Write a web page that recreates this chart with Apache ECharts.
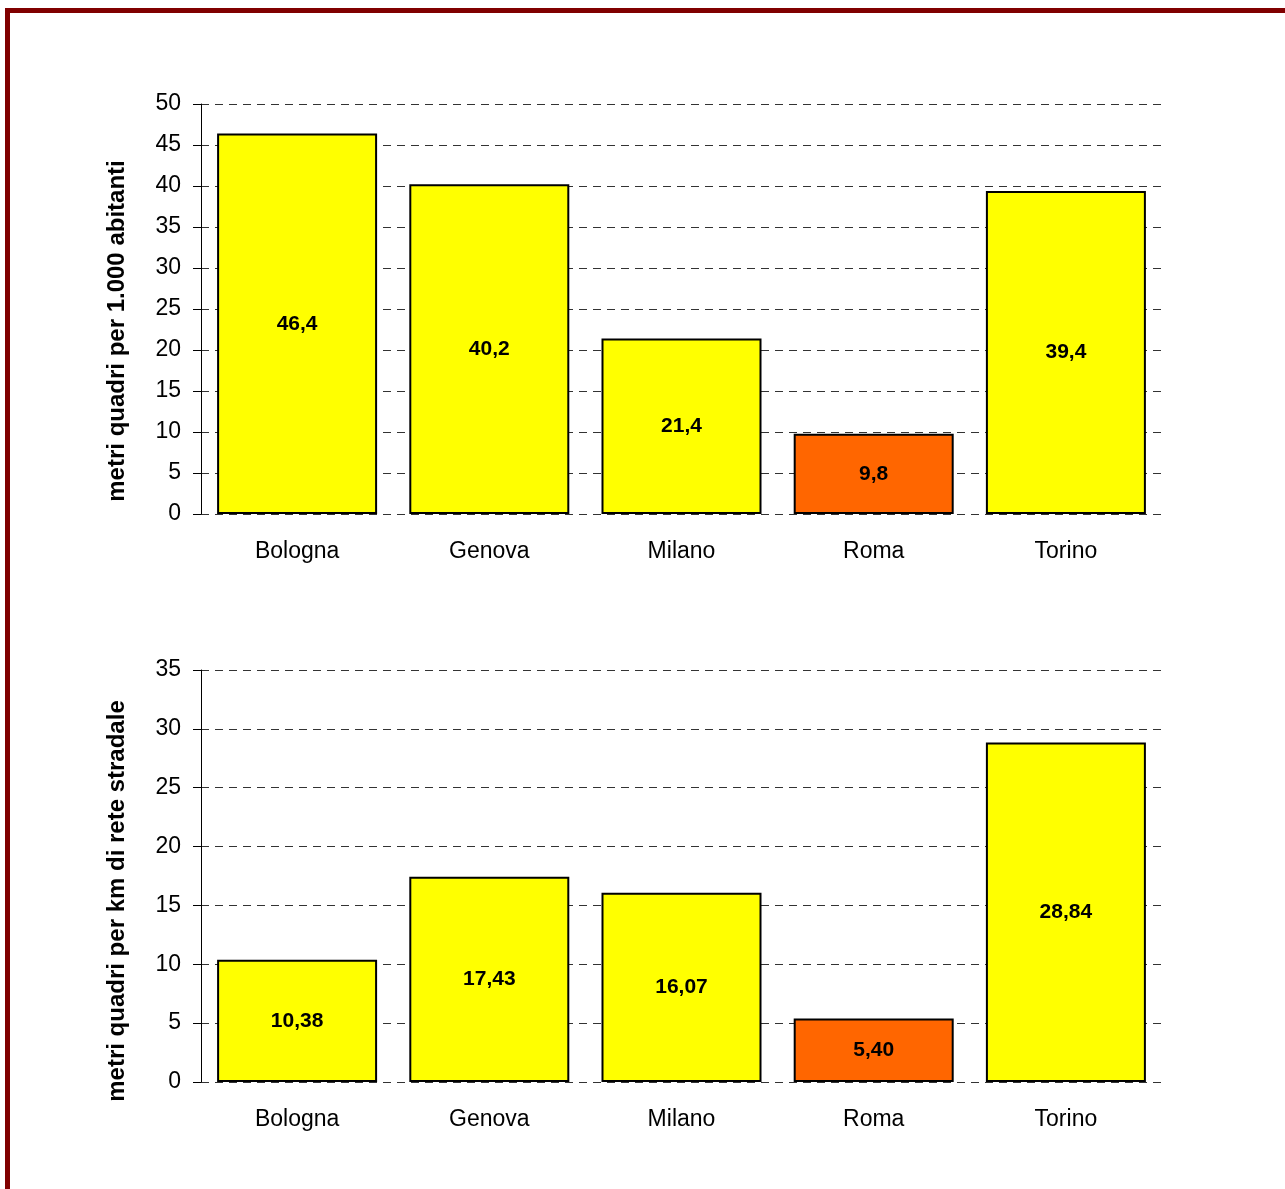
<!DOCTYPE html>
<html>
<head>
<meta charset="utf-8">
<script src="https://cdn.jsdelivr.net/npm/echarts@6/dist/echarts.min.js"></script>
<style>
  html, body { margin: 0; padding: 0; background: #fff; }
  #wrap { position: relative; width: 1285px; height: 1189px; overflow: hidden; }
  #frame { position: absolute; left: 5px; top: 8px; width: 1400px; height: 1300px; border: 5px solid #800000; box-sizing: border-box; }
  #chart { position: absolute; left: 0; top: 0; width: 1285px; height: 1189px; }
</style>
</head>
<body>
<div id="wrap">
  <div id="frame"></div>
  <div id="chart"></div>
</div>
<script>
// dati
const cities = ['Bologna', 'Genova', 'Milano', 'Roma', 'Torino'];
const perAbitanti = [46.4, 40.2, 21.4, 9.8, 39.4];
const perKmRete = [10.38, 17.43, 16.07, 5.40, 28.84];
const highlight = 'Roma';

const FONT = 'Arial, "Liberation Sans", sans-serif';

const chart = echarts.init(document.getElementById('chart'));

function barData(values) {
  return values.map((v, i) => ({
    value: v,
    itemStyle: { color: cities[i] === highlight ? '#FF6600' : '#FFFF00' }
  }));
}

function fmt(dec) {
  return p => p.value.toFixed(dec).replace('.', ',');
}

function yAxis(gridIndex, name, max, pad) {
  return {
    type: 'value',
    gridIndex: gridIndex,
    min: 0,
    max: max,
    interval: 5,
    name: name,
    nameLocation: 'middle',
    nameGap: 72,
    nameTextStyle: { fontFamily: FONT, fontSize: 24, fontWeight: 'bold', color: '#000', padding: [0, pad, 0, 0] },
    axisLine: { show: true, lineStyle: { color: '#000', width: 1 } },
    axisTick: { show: true, length: 8, lineStyle: { color: '#000' } },
    axisLabel: { fontFamily: FONT, fontSize: 23, color: '#000', margin: 20 },
    splitLine: { show: true, lineStyle: { color: '#333', type: [8, 6], width: 1 } }
  };
}

function xAxis(gridIndex) {
  return {
    type: 'category',
    gridIndex: gridIndex,
    data: cities,
    axisLine: { show: false },
    axisTick: { show: false },
    axisLabel: { fontFamily: FONT, fontSize: 23, color: '#000', margin: 26 }
  };
}

function barSeries(idx, values, dec) {
  return {
    type: 'bar',
    xAxisIndex: idx,
    yAxisIndex: idx,
    data: barData(values),
    barWidth: 160,
    itemStyle: { borderColor: '#000', borderWidth: 2 },
    label: {
      show: true,
      position: 'inside',
      formatter: fmt(dec),
      fontFamily: FONT,
      fontSize: 21,
      fontWeight: 'bold',
      color: '#000'
    },
    silent: true
  };
}

const option = {
  animation: false,
  backgroundColor: 'transparent',
  grid: [
    { left: 201, right: 123, top: 104, height: 410 },
    { left: 201, right: 123, top: 670, height: 412 }
  ],
  xAxis: [xAxis(0), xAxis(1)],
  yAxis: [
    yAxis(0, 'metri quadri per 1.000 abitanti', 50, 44),
    yAxis(1, 'metri quadri per km di rete stradale', 35, 50)
  ],
  series: [
    barSeries(0, perAbitanti, 1),
    barSeries(1, perKmRete, 2)
  ]
};

chart.setOption(option);
</script>
</body>
</html>
